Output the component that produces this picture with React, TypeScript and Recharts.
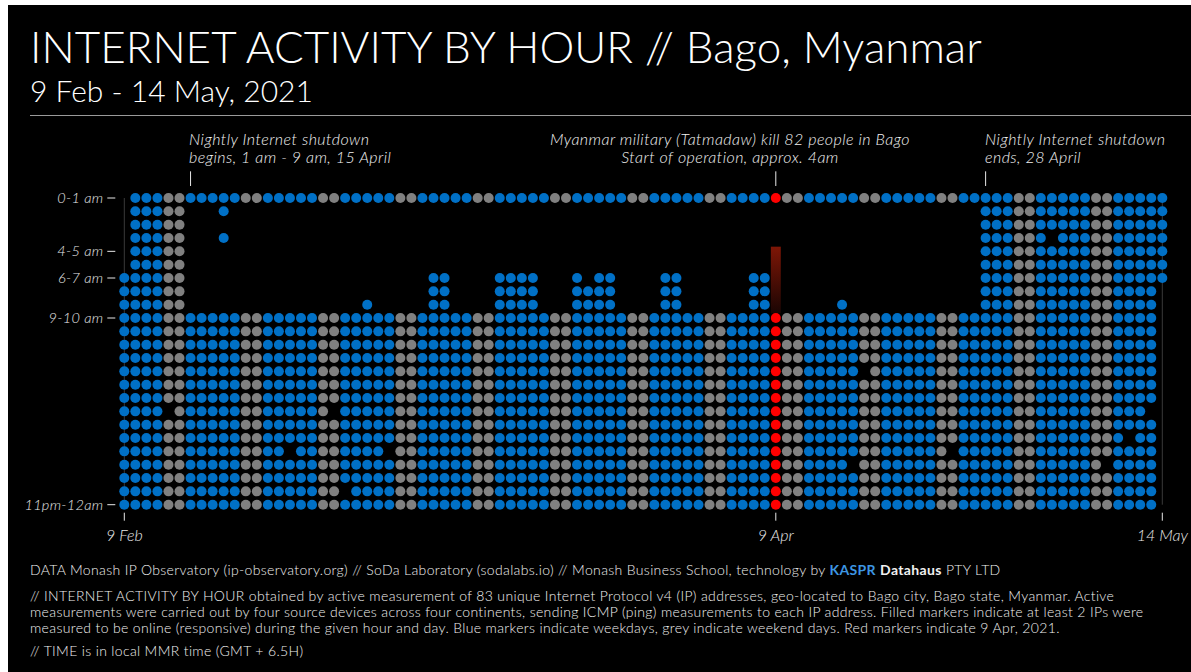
import React from "react";
import { ScatterChart, Scatter, XAxis, YAxis, ReferenceArea, ReferenceLine } from "recharts";

// 9 Feb 2021 .. 14 May 2021, one column per day, one row per hour
const startDate = new Date(2021, 1, 9);
const dayCount = 95;
const hourCount = 24;

const xTicks = [0, 59, 94];
const xTickLabels = ["9 Feb", "9 Apr", "14 May"];
const yTicks = [0, 4, 6, 9, 23];
const yTickLabels = ["0-1 am", "4-5 am", "6-7 am", "9-10 am", "11pm-12am"];

// measurement window: first day starts at 6am, last day ends after 6am
const firstDayFromHour = 6;
const lastDayToHour = 6;

// nightly shutdown (days 6..77 = 15 Feb .. 27 Apr, hours 1am..9am)
const shutdownDays = [6, 77];
const shutdownHours = [1, 8];

// 9 Apr, start of operation approx 4am
const highlightDay = 59;
const operationHours = [4, 9];

// [day, hour] cells online during shutdown
const restoredCells = [
  [9, 1], [9, 3], [22, 8],
  [28, 6], [28, 7], [28, 8], [29, 6], [29, 7], [29, 8],
  [34, 6], [34, 7], [34, 8], [35, 6], [35, 7], [35, 8],
  [36, 6], [36, 7], [36, 8], [37, 6], [37, 7], [37, 8],
  [41, 6], [41, 7], [41, 8], [42, 7], [42, 8],
  [43, 6], [43, 7], [43, 8], [44, 6], [44, 7], [44, 8],
  [49, 6], [49, 7], [49, 8], [50, 6], [50, 7], [50, 8],
  [57, 6], [57, 7], [57, 8], [58, 6], [58, 7], [58, 8],
  [65, 8],
];

// [day, hour] cells offline outside shutdown
const missingCells = [
  [4, 16], [19, 16], [15, 19], [24, 19], [20, 22],
  [67, 13], [66, 20], [75, 19], [84, 3], [89, 20], [91, 18], [93, 16],
];

const annotationDays = [6, 59, 78];

const BLUE = "#0070c6";
const GREY = "#808080";
const RED = "#ff0000";
const FONT = "Lato, 'Open Sans', sans-serif";

type Cell = { day: number; hour: number };

const key = (d: number, h: number) => d * 100 + h;
const restoredSet = new Set(restoredCells.map(([d, h]) => key(d, h)));
const missingSet = new Set(missingCells.map(([d, h]) => key(d, h)));

const weekday: Cell[] = [];
const weekend: Cell[] = [];
const highlight: Cell[] = [];

for (let d = 0; d < dayCount; d++) {
  const date = new Date(startDate.getTime());
  date.setDate(startDate.getDate() + d);
  const isWeekend = date.getDay() === 0 || date.getDay() === 6;
  for (let h = 0; h < hourCount; h++) {
    if (d === 0 && h < firstDayFromHour) continue;
    if (d === dayCount - 1 && h > lastDayToHour) continue;
    const inShutdown =
      d >= shutdownDays[0] && d <= shutdownDays[1] && h >= shutdownHours[0] && h <= shutdownHours[1];
    if (inShutdown && !restoredSet.has(key(d, h))) continue;
    if (missingSet.has(key(d, h))) continue;
    const c = { day: d, hour: h };
    if (d === highlightDay) highlight.push(c);
    else if (isWeekend) weekend.push(c);
    else weekday.push(c);
  }
}

const dot = (color: string) => (p: any) => <circle cx={p.cx} cy={p.cy} r={5} fill={color} />;

const YTick = (props: any) => {
  const { x, y, payload } = props;
  const label = yTickLabels[yTicks.indexOf(payload.value)];
  return (
    <g>
      <text x={x - 13} y={y} dy={5} textAnchor="end" fill="#e8e8e8" fontSize={14.5} fontStyle="italic" fontFamily={FONT} fontWeight={300} letterSpacing={0.3}>
        {label}
      </text>
      <line x1={x - 9} x2={x - 1} y1={y} y2={y} stroke="#e8e8e8" strokeWidth={1} />
    </g>
  );
};

const XTick = (props: any) => {
  const { x, y, payload } = props;
  const label = xTickLabels[xTicks.indexOf(payload.value)];
  return (
    <g>
      <line x1={x} x2={x} y1={y} y2={y + 8} stroke="#e8e8e8" strokeWidth={1} />
      <text x={x} y={y + 28} textAnchor="middle" fill="#e8e8e8" fontSize={16} fontStyle="italic" fontFamily={FONT} fontWeight={300}>
        {label}
      </text>
    </g>
  );
};

const textBase: React.CSSProperties = {
  position: "absolute",
  color: "#f0f0f0",
  fontFamily: FONT,
  fontWeight: 300,
  whiteSpace: "nowrap",
};

const noteStyle: React.CSSProperties = {
  ...textBase,
  top: 125,
  fontSize: 16,
  letterSpacing: 0.45,
  fontStyle: "italic",
  lineHeight: "18px",
};

const footStyle: React.CSSProperties = {
  ...textBase,
  fontSize: 14,
  letterSpacing: 0.35,
};

export default function App() {
  return (
    <div style={{ position: "absolute", left: 8, top: 5, width: 1183, height: 667, background: "#000", overflow: "hidden" }}>
      <div style={{ ...textBase, left: 22, top: 15, fontSize: 44, color: "#fff", lineHeight: "52px" }}>
        INTERNET ACTIVITY BY HOUR // Bago, Myanmar
      </div>
      <div style={{ ...textBase, left: 22, top: 67, fontSize: 30, color: "#fff", lineHeight: "36px" }}>
        9 Feb - 14 May, 2021
      </div>
      <div style={{ position: "absolute", left: 22, top: 110, width: 1161, height: 1, background: "#9a9a9a" }} />

      <div style={{ ...noteStyle, left: 181 }}>
        Nightly Internet shutdown
        <br />
        begins, 1 am - 9 am, 15 April
      </div>
      <div style={{ ...noteStyle, left: 522, width: 400, textAlign: "center" }}>
        Myanmar military (Tatmadaw) kill 82 people in Bago
        <br />
        Start of operation, approx. 4am
      </div>
      <div style={{ ...noteStyle, left: 977 }}>
        Nightly Internet shutdown
        <br />
        ends, 28 April
      </div>

      <div style={{ position: "absolute", left: 0, top: 0 }}>
        <ScatterChart width={1183} height={560} margin={{ top: 193, right: 28.7, bottom: 20.3, left: 6.3 }}>
          <defs>
            <linearGradient id="opGrad" x1="0" y1="0" x2="0" y2="1">
              <stop offset="0%" stopColor="#7e1606" />
              <stop offset="100%" stopColor="#1a0503" />
            </linearGradient>
          </defs>
          <XAxis
            type="number"
            dataKey="day"
            domain={[0, dayCount - 1]}
            ticks={xTicks}
            interval={0}
            axisLine={false}
            tickLine={false}
            height={40}
            tick={<XTick />}
          />
          <YAxis
            type="number"
            dataKey="hour"
            domain={[0, hourCount - 1]}
            reversed
            ticks={yTicks}
            interval={0}
            axisLine={{ stroke: "#3a3a3a" }}
            tickLine={false}
            width={110}
            tick={<YTick />}
          />
          <ReferenceLine x={dayCount - 1} stroke="#3a3a3a" />
          {annotationDays.map((d) => (
            <ReferenceLine
              key={d}
              segment={[{ x: d, y: -2 }, { x: d, y: -0.9 }]}
              stroke="#e8e8e8"
              ifOverflow="visible"
            />
          ))}
          <ReferenceArea
            x1={highlightDay - 0.45}
            x2={highlightDay + 0.45}
            y1={operationHours[0] - 0.35}
            y2={operationHours[1] - 0.35}
            fill="url(#opGrad)"
            fillOpacity={1}
            stroke="none"
          />
          <Scatter data={weekday} fill={BLUE} shape={dot(BLUE)} isAnimationActive={false} />
          <Scatter data={weekend} fill={GREY} shape={dot(GREY)} isAnimationActive={false} />
          <Scatter data={highlight} fill={RED} shape={dot(RED)} isAnimationActive={false} />
        </ScatterChart>
      </div>

      <div style={{ ...footStyle, left: 22, top: 556, lineHeight: "18px" }}>
        DATA Monash IP Observatory (ip-observatory.org) // SoDa Laboratory (sodalabs.io) // Monash Business School, technology by{" "}
        <b style={{ color: "#3d96e3", fontWeight: 700 }}>KASPR</b> <b style={{ fontWeight: 700 }}>Datahaus</b> PTY LTD
      </div>
      <div style={{ ...footStyle, left: 22, top: 583, lineHeight: "16px" }}>
        // INTERNET ACTIVITY BY HOUR obtained by active measurement of 83 unique Internet Protocol v4 (IP) addresses, geo-located to Bago city, Bago state, Myanmar. Active
        <br />
        measurements were carried out by four source devices across four continents, sending ICMP (ping) measurements to each IP address. Filled markers indicate at least 2 IPs were
        <br />
        measured to be online (responsive) during the given hour and day. Blue markers indicate weekdays, grey indicate weekend days. Red markers indicate 9 Apr, 2021.
      </div>
      <div style={{ ...footStyle, left: 22, top: 637, lineHeight: "18px" }}>
        // TIME is in local MMR time (GMT + 6.5H)
      </div>
    </div>
  );
}
